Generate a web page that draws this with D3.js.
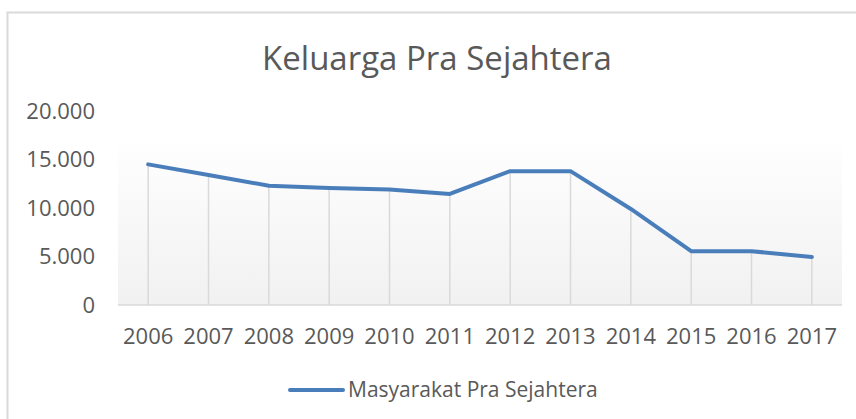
<!DOCTYPE html>
<html>
<head>
<meta charset="utf-8">
<script src="https://cdn.jsdelivr.net/npm/d3@7"></script>
<style>
  body { margin: 0; background: #fff; }
  text { font-family: "Open Sans", sans-serif; fill: #595959; }
</style>
</head>
<body>
<svg width="856" height="419"></svg>
<script>
var years = ["2006", "2007", "2008", "2009", "2010", "2011", "2012", "2013", "2014", "2015", "2016", "2017"];
var values = [14500, 13400, 12300, 12050, 11900, 11450, 13800, 13800, 9900, 5550, 5550, 4950];
var yTicks = [0, 5000, 10000, 15000, 20000];
var seriesName = "Masyarakat Pra Sejahtera";
var title = "Keluarga Pra Sejahtera";

var data = years.map((y, i) => ({year: y, value: values[i]}));
var fmt = d3.formatLocale({decimal: ",", thousands: ".", grouping: [3], currency: ["", ""]}).format(",d");

var svg = d3.select("svg"),
    margin = {top: 111, right: 14, bottom: 114, left: 118},
    width = +svg.attr("width") - margin.left - margin.right,
    height = +svg.attr("height") - margin.top - margin.bottom;

// chart border (top and left visible)
svg.append("path")
    .attr("d", "M7.5,419V12.5H856")
    .attr("fill", "none")
    .attr("stroke", "#d9d9d9")
    .attr("stroke-width", 2);

svg.append("text")
    .attr("x", 437)
    .attr("y", 70)
    .attr("text-anchor", "middle")
    .style("font-size", "33px")
    .text(title);

var defs = svg.append("defs");
var grad = defs.append("linearGradient").attr("id", "bg").attr("x1", 0).attr("y1", 0).attr("x2", 0).attr("y2", 1);
grad.append("stop").attr("offset", "0%").attr("stop-color", "#ffffff");
grad.append("stop").attr("offset", "100%").attr("stop-color", "#f1f1f1");

var g = svg.append("g").attr("transform", "translate(" + margin.left + "," + margin.top + ")");

var x = d3.scaleBand().domain(years).range([0, width]);
var y = d3.scaleLinear().domain([0, 20000]).range([height, 0]);

g.append("rect")
    .attr("x", 0)
    .attr("y", y(17500))
    .attr("width", width)
    .attr("height", height - y(17500))
    .attr("fill", "url(#bg)");

// drop lines
g.selectAll(".drop")
    .data(data)
  .enter().append("line")
    .attr("class", "drop")
    .attr("x1", d => x(d.year) + x.bandwidth() / 2)
    .attr("x2", d => x(d.year) + x.bandwidth() / 2)
    .attr("y1", d => y(d.value))
    .attr("y2", y(0))
    .attr("stroke", "#d9d9d9")
    .attr("stroke-width", 1.5);

g.append("line")
    .attr("x1", 0).attr("x2", width)
    .attr("y1", y(0)).attr("y2", y(0))
    .attr("stroke", "#d9d9d9")
    .attr("stroke-width", 1.5);

var yAxis = g.append("g")
    .call(d3.axisLeft(y).tickValues(yTicks).tickFormat(fmt).tickSize(0).tickPadding(23));
yAxis.select(".domain").remove();
yAxis.selectAll("text").style("font-size", "22px").attr("fill", "#595959");

var xAxis = g.append("g")
    .attr("transform", "translate(0," + height + ")")
    .call(d3.axisBottom(x).tickSize(0).tickPadding(23));
xAxis.select(".domain").remove();
xAxis.selectAll("text").style("font-size", "22px").attr("fill", "#595959");

var line = d3.line()
    .x(d => x(d.year) + x.bandwidth() / 2)
    .y(d => y(d.value));

g.append("path")
    .datum(data)
    .attr("fill", "none")
    .attr("stroke", "#4a7ebb")
    .attr("stroke-width", 4)
    .attr("stroke-linejoin", "round")
    .attr("stroke-linecap", "round")
    .attr("d", line);

// legend
var lg = svg.append("g").attr("transform", "translate(290,390)");
lg.append("line")
    .attr("x1", 0).attr("x2", 53)
    .attr("stroke", "#4a7ebb")
    .attr("stroke-width", 4)
    .attr("stroke-linecap", "round");
lg.append("text")
    .attr("x", 58)
    .attr("y", 7)
    .style("font-size", "21px")
    .text(seriesName);
</script>
</body>
</html>
